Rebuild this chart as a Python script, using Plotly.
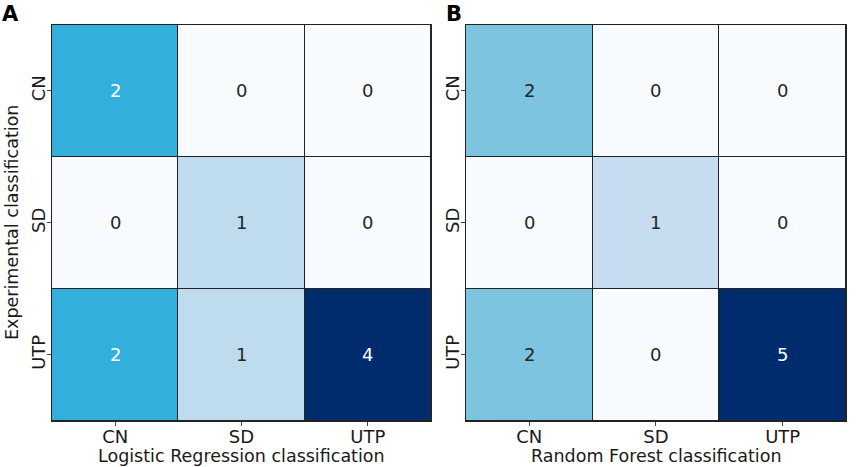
import plotly.graph_objects as go

# confusion matrices, rows = experimental class, cols = predicted class
classes = ["CN", "SD", "UTP"]
lr_counts = [[2, 0, 0],
             [0, 1, 0],
             [2, 1, 4]]
rf_counts = [[2, 0, 0],
             [0, 1, 0],
             [2, 0, 5]]

panel_letters = ["A", "B"]
x_titles = ["Logistic Regression classification", "Random Forest classification"]
y_title = "Experimental classification"

# blues-ish scale
blues = [
    [0.0, "#f7fbff"],
    [0.2, "#c6dcef"],
    [0.25, "#bedcee"],
    [0.4, "#7dc4e0"],
    [0.5, "#32afda"],
    [1.0, "#002c6d"],
]

FONT = "DejaVu Sans"
TXT = "#1a1a1a"

x_domains = [[0.0606, 0.5023], [0.5431, 0.986]]
y_domain = [0.0985, 0.9465]

fig = go.Figure()

panels = [(lr_counts, "x", "y"), (rf_counts, "x2", "y2")]
for counts, xa, ya in panels:
    zmax = max(max(r) for r in counts)
    fig.add_trace(go.Heatmap(
        z=counts, x=classes, y=classes,
        colorscale=blues, zmin=0, zmax=zmax,
        showscale=False, xgap=1, ygap=1,
        xaxis=xa, yaxis=ya, hoverinfo="skip",
    ))
    for i, row_name in enumerate(classes):
        for j, col_name in enumerate(classes):
            v = counts[i][j]
            color = "white" if v / zmax >= 0.5 else "#262626"
            fig.add_annotation(
                x=col_name, y=row_name, xref=xa, yref=ya,
                text=str(v), showarrow=False,
                font=dict(family=FONT, size=18, color=color),
            )

axis_style = dict(
    showline=True, mirror=True, linecolor="#222", linewidth=1,
    ticks="outside", ticklen=4, tickcolor="#444",
    showgrid=False, zeroline=False, automargin=False,
    tickfont=dict(family=FONT, size=18, color=TXT),
)

fig.update_layout(
    width=858, height=467,
    margin=dict(l=0, r=0, t=0, b=0),
    paper_bgcolor="white", plot_bgcolor="#222",
    xaxis=dict(domain=x_domains[0], anchor="y", ticklabelstandoff=-5, **axis_style),
    yaxis=dict(domain=y_domain, anchor="x", autorange="reversed",
               tickangle=-90, ticklabelstandoff=-5, **axis_style),
    xaxis2=dict(domain=x_domains[1], anchor="y2", ticklabelstandoff=-5, **axis_style),
    yaxis2=dict(domain=y_domain, anchor="x2", autorange="reversed",
                tickangle=-90, ticklabelstandoff=-5, **axis_style),
)

# axis titles as annotations so they sit where the reference has them
for title, dom in zip(x_titles, x_domains):
    fig.add_annotation(
        x=(dom[0] + dom[1]) / 2, y=0.023, xref="paper", yref="paper",
        xanchor="center", yanchor="middle", text=title, showarrow=False,
        font=dict(family=FONT, size=17.5, color=TXT),
    )
fig.add_annotation(
    x=0.014, y=(y_domain[0] + y_domain[1]) / 2, xref="paper", yref="paper",
    xanchor="center", yanchor="middle", text=y_title, textangle=-90,
    showarrow=False, font=dict(family=FONT, size=17.5, color=TXT),
)

for letter, xpos in zip(panel_letters, [0.0, 0.518]):
    fig.add_annotation(
        x=xpos, y=1.0, xref="paper", yref="paper",
        xanchor="left", yanchor="top", text="<b>%s</b>" % letter,
        showarrow=False, font=dict(family=FONT, size=21, color="black"),
    )

# drop the default 8px body margin so the figure sits at the page corner
fig.write_html("out.html", config={"displayModeBar": False},
               post_script="document.body.style.margin='0';")
